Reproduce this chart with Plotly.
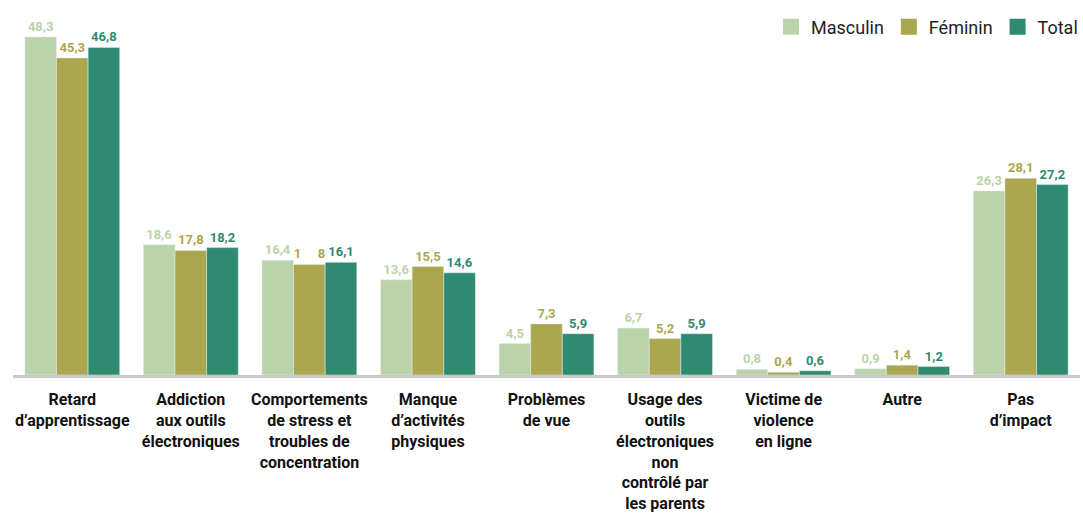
import plotly.graph_objects as go

categories = [
    "Retard<br>d\u2019apprentissage",
    "Addiction<br>aux outils<br>électroniques",
    "Comportements<br>de stress et<br>troubles de<br>concentration",
    "Manque<br>d\u2019activités<br>physiques",
    "Problèmes<br>de vue",
    "Usage des<br>outils<br>électroniques<br>non<br>contrôlé par<br>les parents",
    "Victime de<br>violence<br>en ligne",
    "Autre",
    "Pas<br>d\u2019impact",
]
masculin = [48.3, 18.6, 16.4, 13.6, 4.5, 6.7, 0.8, 0.9, 26.3]
feminin = [45.3, 17.8, 15.8, 15.5, 7.3, 5.2, 0.4, 1.4, 28.1]
total = [46.8, 18.2, 16.1, 14.6, 5.9, 5.9, 0.6, 1.2, 27.2]

# label as printed in the source (one label renders as "1  8")
feminin_labels = [f"{v:.1f}".replace(".", ",") for v in feminin]
feminin_labels[2] = "1\u2002\u2002 8"

series = [
    ("Masculin", masculin, "#bad3a9", [f"{v:.1f}".replace(".", ",") for v in masculin]),
    ("Féminin", feminin, "#aca64f", feminin_labels),
    ("Total", total, "#2e8a70", [f"{v:.1f}".replace(".", ",") for v in total]),
]

fig = go.Figure()
for name, vals, col, labels in series:
    fig.add_trace(go.Bar(
        x=categories, y=vals, name=name, marker_color=col,
        text=labels, textposition="outside", cliponaxis=False,
        textfont=dict(family="Roboto", size=13, color=col, weight=700),
        showlegend=False,
    ))
for name, vals, col, labels in series:
    fig.add_trace(go.Scatter(
        x=[None], y=[None], mode="markers", name=name,
        marker=dict(symbol="square", size=19, color=col),
    ))

fig.update_layout(
    width=1083, height=516,
    margin=dict(l=13, r=3, t=25, b=141, autoexpand=False),
    plot_bgcolor="white", paper_bgcolor="white",
    barmode="group", bargap=0.2, bargroupgap=0,
    font=dict(family="Roboto", color="#111"),
    legend=dict(
        orientation="h", xref="container", x=1.0, xanchor="right",
        yref="container", y=1 - 27 / 516, yanchor="middle",
        font=dict(size=18, color="#222"), itemwidth=30,
    ),
)
fig.update_xaxes(
    showline=True, linecolor="#c8c8c8", linewidth=3, automargin=False,
    tickfont=dict(family="Roboto", size=16, color="#111", weight=700),
    ticks="", showgrid=False, ticklabelstandoff=8,
)
fig.update_yaxes(range=[0, 50], visible=False, showgrid=False, automargin=False)

fig.write_html(
    "out.html",
    config={"displayModeBar": False},
    post_script="document.body.style.margin='0';document.body.style.overflow='hidden';",
)
